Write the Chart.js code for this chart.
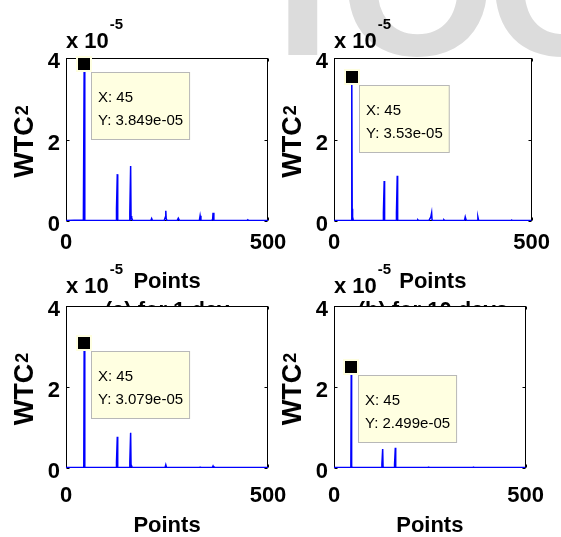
<!DOCTYPE html>
<html>
<head>
<meta charset="utf-8">
<script src="https://cdn.jsdelivr.net/npm/chart.js@4"></script>
<style>
  html, body { margin: 0; padding: 0; background: #fff; }
  #wrap { position: relative; width: 561px; height: 537px; overflow: hidden; }
  #wrap canvas { position: absolute; left: 0; top: 0; }
</style>
</head>
<body>
<div id="wrap">
  <canvas id="panelA" width="561" height="537"></canvas>
  <canvas id="panelB" width="561" height="537"></canvas>
  <canvas id="panelC" width="561" height="537"></canvas>
  <canvas id="panelD" width="561" height="537"></canvas>
</div>
<script>
// ======================= DATA =======================

const FONT = 'Liberation Sans, Arial, Helvetica, sans-serif';

// axis ticks (y in units of 1e-5)
const xTicks = [0, 500];
const yTicks = [0, 2, 4];
const yTitle = ['WTC', '2'];   // text and superscript

// the point that carries the data tip
const tipX = 45;

// (a) top left
const ptsA = [0, 20, 43, 44, 45, 46, 47, 80, 124, 125, 127, 128, 130, 157, 158, 160, 161, 162, 163, 165,
              210, 212, 214, 243, 246, 247, 248, 250, 275, 278, 281, 330, 332, 334, 361, 363, 364, 366,
              448, 450, 452, 500];
const wtcA = [0.01, 0.02, 0.02, 0.02, 3.849, 0.15, 0.02, 0.01, 0.01, 0.3, 1.15, 0.03, 0.01, 0.01, 0.2, 1.35, 0.05, 0.12, 0.08, 0.01,
              0.01, 0.06, 0.01, 0.01, 0.1, 0.25, 0.06, 0.01, 0.01, 0.07, 0.01, 0.01, 0.13, 0.01, 0.01, 0.05, 0.2, 0.01,
              0.01, 0.03, 0.01, 0.01];

// (b) top right
const ptsB = [0, 20, 43, 44, 45, 46, 47, 49, 80, 124, 125, 127, 128, 130, 157, 158, 160, 161, 163,
              210, 212, 214, 240, 245, 247, 248, 250, 276, 278, 280, 330, 332, 334, 336, 362, 364, 366,
              448, 450, 452, 500];
const wtcB = [0.01, 0.01, 0.01, 0.02, 3.53, 0.3, 0.1, 0.01, 0.01, 0.01, 0.2, 0.98, 0.02, 0.01, 0.01, 0.2, 1.11, 0.03, 0.01,
              0.01, 0.03, 0.01, 0.01, 0.1, 0.2, 0.03, 0.01, 0.01, 0.03, 0.01, 0.01, 0.1, 0.03, 0.01, 0.01, 0.1, 0.01,
              0.01, 0.02, 0.01, 0.01];

// (c) bottom left
const ptsC = [0, 43, 44, 45, 46, 47, 124, 125, 127, 128, 130, 157, 158, 160, 161, 162, 164,
              245, 247, 249, 330, 332, 334, 362, 364, 366, 500];
const wtcC = [0.01, 0.01, 0.02, 3.079, 0.05, 0.01, 0.01, 0.15, 0.77, 0.02, 0.01, 0.01, 0.15, 0.87, 0.03, 0.06, 0.01,
              0.01, 0.08, 0.01, 0.01, 0.02, 0.01, 0.01, 0.05, 0.01, 0.01];

// (d) bottom right
const ptsD = [0, 43, 44, 45, 46, 47, 124, 125, 127, 128, 130, 157, 158, 160, 161, 163,
              245, 247, 249, 362, 364, 366, 500];
const wtcD = [0.01, 0.01, 0.02, 2.499, 0.05, 0.01, 0.01, 0.1, 0.47, 0.02, 0.01, 0.01, 0.1, 0.5, 0.02, 0.01,
              0.01, 0.02, 0.01, 0.01, 0.02, 0.01, 0.01];


// ======================= PLUGINS =======================

// light grey letters of the page watermark, behind everything
const watermark = {
    id: 'watermark',
    beforeDraw(chart) {
        const ctx = chart.ctx;
        ctx.save();
        ctx.fillStyle = '#dcdcdc';
        ctx.font = 'bold 200px ' + FONT;
        ctx.textBaseline = 'alphabetic';
        ctx.fillText('I', 275, 55);
        ctx.fillText('O', 340, 55);
        ctx.fillText('C', 487, 55);
        ctx.restore();
    }
};

// white axes background, box with inward ticks, data tip, y title and the "x 10^-5" label
const panel = {
    id: 'panel',
    beforeDraw(chart) {
        const { ctx, chartArea: a } = chart;
        ctx.save();
        ctx.fillStyle = '#fff';
        ctx.fillRect(a.left, a.top, a.right - a.left, a.bottom - a.top);
        ctx.restore();
    },
    beforeDatasetsDraw(chart) {
        const { ctx, chartArea: a, scales } = chart;
        const l = Math.round(a.left) + 0.5, r = Math.round(a.right) - 0.5;
        const t = Math.round(a.top) + 0.5, b = Math.round(a.bottom) - 0.5;
        ctx.save();
        ctx.strokeStyle = '#000';
        ctx.lineWidth = 1;
        ctx.strokeRect(l, t, r - l, b - t);
        ctx.beginPath();
        yTicks.forEach(v => {
            const y = Math.round(scales.y.getPixelForValue(v)) + 0.5;
            ctx.moveTo(l, y); ctx.lineTo(l + 3, y);
            ctx.moveTo(r, y); ctx.lineTo(r - 3, y);
        });
        xTicks.forEach(v => {
            const x = Math.round(scales.x.getPixelForValue(v)) + 0.5;
            ctx.moveTo(x, b); ctx.lineTo(x, b - 3);
            ctx.moveTo(x, t); ctx.lineTo(x, t + 3);
        });
        ctx.stroke();
        ctx.restore();
    },
    afterDatasetsDraw(chart, args, opts) {
        const { ctx, chartArea: a, scales } = chart;
        const pt = chart.data.datasets[0].data.find(p => p.x === tipX);
        const px = Math.round(scales.x.getPixelForValue(pt.x));
        const py = Math.round(scales.y.getPixelForValue(pt.y));
        ctx.save();

        // marker
        ctx.fillStyle = '#ffffe1';
        ctx.fillRect(px - 8, py - 8, 16, 16);
        ctx.fillStyle = '#000';
        ctx.fillRect(px - 6, py - 6, 12, 12);

        // data tip box
        const lines = ['X: ' + pt.x, 'Y: ' + pt.y + 'e-05'];
        ctx.font = '15px ' + FONT;
        const w = Math.max(...lines.map(s => ctx.measureText(s).width)) + 14;
        const bx = px + 7, by = py + 8;
        ctx.fillStyle = '#ffffe1';
        ctx.fillRect(bx, by, w, 68);
        ctx.strokeStyle = '#b8b8b8';
        ctx.lineWidth = 1;
        ctx.strokeRect(bx + 0.5, by + 0.5, w - 1, 67);
        ctx.fillStyle = '#000';
        ctx.textBaseline = 'alphabetic';
        ctx.fillText(lines[0], bx + 7, by + 30);
        ctx.fillText(lines[1], bx + 7, by + 53);

        // exponent label over the y axis
        const base = a.top - opts.expGap;
        ctx.font = 'bold 22px ' + FONT;
        ctx.fillText('x 10', a.left, base);
        const ew = ctx.measureText('x 10').width;
        ctx.font = 'bold 15px ' + FONT;
        ctx.fillText('-5', a.left + ew + 1, base - 19);

        // rotated y title with a real superscript
        ctx.translate(scales.y.left + 26, (a.top + a.bottom) / 2 + 2);
        ctx.rotate(-Math.PI / 2);
        ctx.font = 'bold 27px ' + FONT;
        const w1 = ctx.measureText(yTitle[0]).width;
        ctx.font = 'bold 18px ' + FONT;
        const w2 = ctx.measureText(yTitle[1]).width;
        const x0 = -(w1 + w2 + 1) / 2;
        ctx.font = 'bold 27px ' + FONT;
        ctx.textBaseline = 'middle';
        ctx.fillText(yTitle[0], x0, 0);
        ctx.font = 'bold 18px ' + FONT;
        ctx.textBaseline = 'alphabetic';
        ctx.fillText(yTitle[1], x0 + w1 + 1, 2);
        ctx.restore();
    }
};


// ======================= CHART SETUP =======================

function makePanel(id, pts, wtc, p, extra) {
    const ctx = document.getElementById(id).getContext('2d');
    return new Chart(ctx, {
        type: 'line',
        data: {
            datasets: [{
                data: pts.map((x, i) => ({ x: x, y: wtc[i] })),
                borderColor: '#0000ff',
                borderWidth: 1.5,
                pointRadius: 0,
                tension: 0,
                fill: false
            }]
        },
        options: {
            responsive: false,
            animation: false,
            events: [],
            layout: { padding: p.pad, autoPadding: false },
            plugins: {
                legend: { display: false },
                tooltip: { enabled: false },
                panel: { expGap: p.expGap }
            },
            scales: {
                x: {
                    type: 'linear',
                    min: 0,
                    max: 500,
                    afterBuildTicks: s => { s.ticks = xTicks.map(v => ({ value: v })); },
                    afterFit: s => { s.height = p.xHeight; },
                    grid: { display: false, drawTicks: false },
                    border: { display: false },
                    ticks: {
                        color: '#000',
                        padding: p.xTickPad,
                        maxRotation: 0,
                        font: { family: FONT, size: 22, weight: 'bold', lineHeight: 1 }
                    },
                    title: {
                        display: true,
                        text: p.xTitle,
                        color: '#000',
                        padding: { top: 0, bottom: p.xTitlePad },
                        font: { family: FONT, size: 22, weight: 'bold', lineHeight: p.xTitleLh }
                    }
                },
                y: {
                    min: 0,
                    max: 4,
                    afterBuildTicks: s => { s.ticks = yTicks.map(v => ({ value: v })); },
                    afterFit: s => { s.width = 66; },
                    grid: { display: false, drawTicks: false },
                    border: { display: false },
                    ticks: {
                        color: '#000',
                        padding: 6,
                        labelOffset: 4,
                        font: { family: FONT, size: 22, weight: 'bold', lineHeight: 1 }
                    }
                }
            }
        },
        plugins: extra ? [extra, panel] : [panel]
    });
}

const topRow = { xHeight: 105, xTickPad: 11, xTitleLh: 1.32, xTitlePad: 0.85, expGap: 10 };
const bottomRow = { xHeight: 69, xTickPad: 17, xTitleLh: 1, xTitlePad: 0, expGap: 13 };

makePanel('panelA', ptsA, wtcA, Object.assign({}, topRow, {
    pad: { left: 0, right: 293, top: 58, bottom: 211 },
    xTitle: ['Points', '(a) for 1 day']
}), watermark);

makePanel('panelB', ptsB, wtcB, Object.assign({}, topRow, {
    pad: { left: 268, right: 23, top: 58, bottom: 211 },
    xTitle: ['Points', '(b) for 10 days']
}));

makePanel('panelC', ptsC, wtcC, Object.assign({}, bottomRow, {
    pad: { left: 0, right: 293, top: 306, bottom: 0 },
    xTitle: 'Points'
}));

makePanel('panelD', ptsD, wtcD, Object.assign({}, bottomRow, {
    pad: { left: 268, right: 23, top: 306, bottom: 0 },
    xTitle: 'Points'
}));
</script>
</body>
</html>
